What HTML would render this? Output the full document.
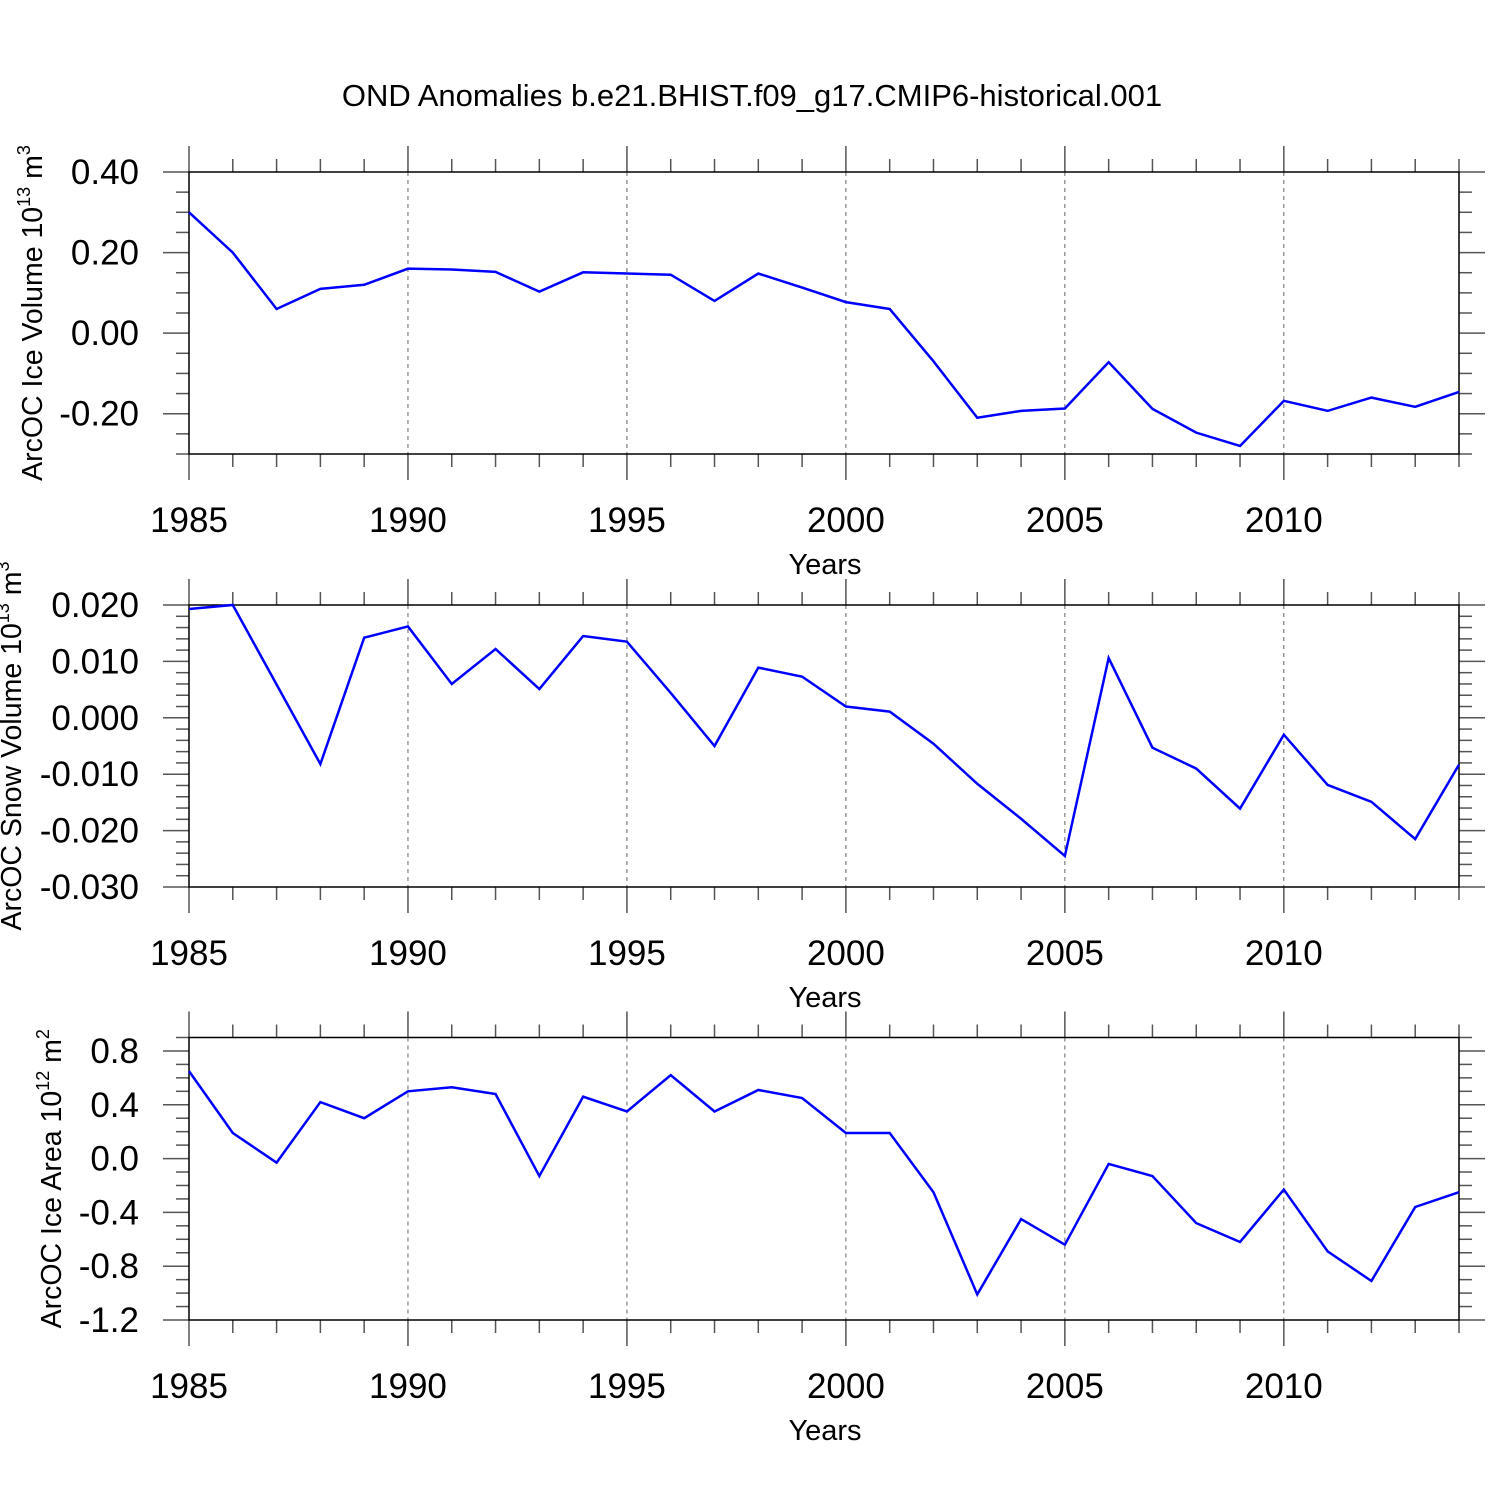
<!DOCTYPE html>
<html><head><meta charset="utf-8"><style>
html,body{margin:0;padding:0;background:#fff;}
svg{display:block;font-family:"Liberation Sans",sans-serif;}
</style></head><body>
<svg id="chart" width="1500" height="1500" viewBox="0 0 1500 1500">
<text x="752" y="106" font-size="31" text-anchor="middle">OND Anomalies b.e21.BHIST.f09_g17.CMIP6-historical.001</text>
</svg>
<script>
const years = [1985,1986,1987,1988,1989,1990,1991,1992,1993,1994,1995,1996,1997,1998,1999,2000,2001,2002,2003,2004,2005,2006,2007,2008,2009,2010,2011,2012,2013,2014];
const iceVolume = [0.30,0.20,0.06,0.11,0.12,0.16,0.158,0.152,0.103,0.151,0.148,0.145,0.08,0.148,0.113,0.077,0.06,-0.07,-0.21,-0.193,-0.187,-0.072,-0.188,-0.247,-0.28,-0.168,-0.193,-0.16,-0.183,-0.146];
const snowVolume = [0.0193,0.020,0.0059,-0.0082,0.0142,0.0162,0.006,0.0122,0.0051,0.0145,0.0135,0.0044,-0.005,0.0089,0.0073,0.002,0.0011,-0.0046,-0.0117,-0.0179,-0.0245,0.0106,-0.0053,-0.009,-0.0161,-0.003,-0.0119,-0.0149,-0.0215,-0.0083];
const iceArea = [0.65,0.19,-0.03,0.42,0.30,0.50,0.53,0.48,-0.13,0.46,0.35,0.62,0.35,0.51,0.45,0.19,0.19,-0.25,-1.01,-0.45,-0.64,-0.04,-0.13,-0.48,-0.62,-0.23,-0.69,-0.91,-0.36,-0.25];
const xTickLabels = ["1985","1990","1995","2000","2005","2010"];
const ticks1 = ["0.40","0.20","0.00","-0.20"];
const ticks2 = ["0.020","0.010","0.000","-0.010","-0.020","-0.030"];
const ticks3 = ["0.8","0.4","0.0","-0.4","-0.8","-1.2"];

const NS="http://www.w3.org/2000/svg";
const svg=document.getElementById('chart');
function mk(tag,attrs,parent){const e=document.createElementNS(NS,tag);for(const k in attrs)e.setAttribute(k,attrs[k]);(parent||svg).appendChild(e);return e;}
const X0=189,X1=1459;
function xs(y){return X0+(y-1985)/(2014-1985)*(X1-X0);}

function panel(o){
  const g=mk('g',{});
  
  
  const ys=v=>o.top+(o.ymax-v)/(o.ymax-o.ymin)*(o.bot-o.top);
  for(let y=1990;y<=2010;y+=5){
    const l=mk('line',{x1:xs(y),x2:xs(y),y1:o.top,y2:o.bot,stroke:'#666','stroke-width':1,'stroke-dasharray':'4,4'},g);
    
    
  }
  for(let y=1985;y<=2014;y++){
    const len=(y%5===0)?26:13;
    mk('line',{x1:xs(y),x2:xs(y),y1:o.top-len,y2:o.top,stroke:'#555','stroke-width':1.5},g);
    mk('line',{x1:xs(y),x2:xs(y),y1:o.bot,y2:o.bot+len,stroke:'#555','stroke-width':1.5},g);
  }
  xTickLabels.forEach(s=>{
    const t=mk('text',{x:xs(+s),y:o.bot+78,'font-size':35,'text-anchor':'middle'},g);
    t.textContent=s;
    
    
  });
  const xt=mk('text',{x:825,y:o.bot+120,'font-size':29,'text-anchor':'middle'},g);
  xt.textContent='Years';
  
  
  const n=Math.round((o.ymax-o.ymin)/o.minor);
  for(let i=0;i<=n;i++){
    const v=o.ymin+i*o.minor;
    const isMaj=o.labels.some(s=>Math.abs(+s-v)<o.minor/10);
    const len=isMaj?26:13;const y=ys(v);
    mk('line',{x1:X0-len,x2:X0,y1:y,y2:y,stroke:'#555','stroke-width':1.5},g);
    mk('line',{x1:X1,x2:X1+len,y1:y,y2:y,stroke:'#555','stroke-width':1.5},g);
  }
  o.labels.forEach(s=>{
    const t=mk('text',{x:139,y:ys(+s)+12,'font-size':35,'text-anchor':'end'},g);
    t.textContent=s;
    
    
  });
  mk('rect',{x:X0,y:o.top,width:X1-X0,height:o.bot-o.top,fill:'none',stroke:'#000','stroke-width':1.5},g);
  const yt=mk('text',{transform:`translate(${o.tx},${(o.top+o.bot)/2}) rotate(-90)`,'font-size':28.5,'text-anchor':'middle'},g);
  yt.innerHTML=o.title+' 10<tspan dy="-12" font-size="18">'+o.exp+'</tspan><tspan dy="12"> m</tspan><tspan dy="-12" font-size="18">'+o.unit+'</tspan>';
  
  
  const pts=years.map((y,i)=>xs(y)+','+ys(o.data[i])).join(' ');
  const pl=mk('polyline',{points:pts,fill:'none',stroke:'#0000ff','stroke-width':2.5},g);
  
  
}
panel({name:'ice-volume-panel',top:172,bot:454,ymax:0.40,ymin:-0.30,minor:0.05,labels:ticks1,data:iceVolume,title:'ArcOC Ice Volume',exp:'13',unit:'3',tx:42});
panel({name:'snow-volume-panel',top:605,bot:887,ymax:0.020,ymin:-0.030,minor:0.002,labels:ticks2,data:snowVolume,title:'ArcOC Snow Volume',exp:'13',unit:'3',tx:21});
panel({name:'ice-area-panel',top:1037.5,bot:1320,ymax:0.9,ymin:-1.2,minor:0.1,labels:ticks3,data:iceArea,title:'ArcOC Ice Area',exp:'12',unit:'2',tx:61});
</script>
</body></html>
